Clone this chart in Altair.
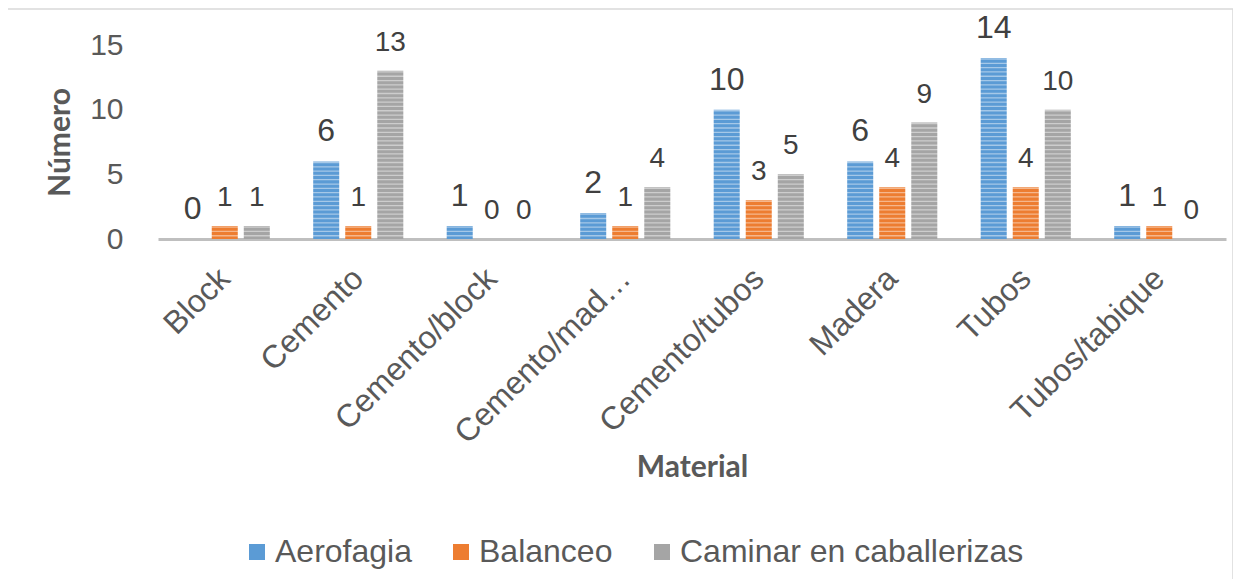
import altair as alt
import pandas as pd

categories = ["Block", "Cemento", "Cemento/block", "Cemento/madera",
              "Cemento/tubos", "Madera", "Tubos", "Tubos/tabique"]
series = ["Aerofagia", "Balanceo", "Caminar en caballerizas"]
aerofagia = [0, 6, 1, 2, 10, 6, 14, 1]
balanceo = [1, 1, 0, 1, 3, 4, 4, 1]
caminar = [1, 13, 0, 4, 5, 9, 10, 0]
colors = ["#5B9BD5", "#ED7D31", "#A5A5A5"]

rows = []
for s, vals in zip(series, [aerofagia, balanceo, caminar]):
    for c, v in zip(categories, vals):
        rows.append({"Material": c, "Serie": s, "Valor": v})
df = pd.DataFrame(rows)

LABEL_FONT = "Liberation Sans"
TITLE_FONT = "Lato"
GREY = "#595959"

x_enc = alt.X(
    "Material:N", sort=categories,
    scale=alt.Scale(paddingInner=0.28, paddingOuter=0.14),
    axis=alt.Axis(
        title="Material", titleFont=TITLE_FONT, titleFontSize=30, titleFontWeight="bold",
        titleColor=GREY, titlePadding=13,
        labelAngle=-45, labelAlign="right", labelBaseline="middle",
        labelFont=LABEL_FONT, labelFontSize=32, labelColor=GREY,
        labelPadding=34, labelLimit=400, ticks=False, domainColor="#BFBFBF", domainWidth=3,
        grid=False,
        labelExpr="datum.label == 'Cemento/madera' ? 'Cemento/mad\u2026' : datum.label",
    ),
)
xoff = alt.XOffset("Serie:N", sort=series,
                   scale=alt.Scale(paddingInner=0.1875, paddingOuter=0.09375))
y_axis = alt.Axis(
    title="Número", titleFont=TITLE_FONT, titleFontSize=30, titleFontWeight="bold",
    titleColor=GREY, titlePadding=14,
    values=[0, 5, 10, 15], labelFont=LABEL_FONT, labelFontSize=30, labelColor=GREY,
    labelPadding=35, ticks=False, domain=False, grid=False,
)
y_scale = alt.Scale(domain=[0, 15], nice=False)

base = alt.Chart(df)
bars = base.mark_bar().encode(
    x=x_enc, xOffset=xoff,
    y=alt.Y("Valor:Q", scale=y_scale, axis=y_axis),
    color=alt.Color(
        "Serie:N", sort=series,
        scale=alt.Scale(domain=series, range=colors),
        legend=alt.Legend(
            title=None, orient="none", direction="horizontal", legendX=83, legendY=491,
            symbolType="square", symbolSize=256, symbolStrokeWidth=0,
            labelFont=LABEL_FONT, labelFontSize=32, labelColor=GREY, labelLimit=600,
            labelOffset=2, columnPadding=33,
        ),
    ),
)

# light horizontal hatching over the bars (decorative texture only)
stripes = alt.Chart(alt.sequence(0.25, 14.9, 1 / 3, as_="s")).mark_rule(
    color="white", opacity=0.45, strokeWidth=1.3
).encode(
    y=alt.Y("s:Q", scale=y_scale, axis=y_axis),
    x=alt.value(0), x2=alt.value(1068),
)

labels = base.mark_text(baseline="alphabetic", dy=-20, font=LABEL_FONT, color="#404040").encode(
    x=alt.X("Material:N", sort=categories),
    xOffset=alt.XOffset("Serie:N", sort=series),
    y=alt.Y("Valor:Q", scale=y_scale, axis=y_axis),
    text="Valor:Q",
    size=alt.condition(alt.datum.Serie == "Aerofagia", alt.value(32), alt.value(28)),
)

border = alt.Chart(pd.DataFrame({"k": [0]})).mark_rect(
    fill=None, stroke="#D9D9D9", strokeWidth=1.5
).encode(
    x=alt.value(-151), x2=alt.value(1075), y=alt.value(-36), y2=alt.value(640)
)

chart = alt.layer(border, bars, stripes, labels).properties(
    width=1068, height=194,
    background="white",
    autosize=alt.AutoSizeParams(type="none"),
    padding={"left": 150, "top": 37, "right": 7, "bottom": 340},
).configure_view(stroke=None, strokeWidth=0).configure_axis(grid=False)

chart.save("out.html", embed_options={"renderer": "svg", "actions": False})
